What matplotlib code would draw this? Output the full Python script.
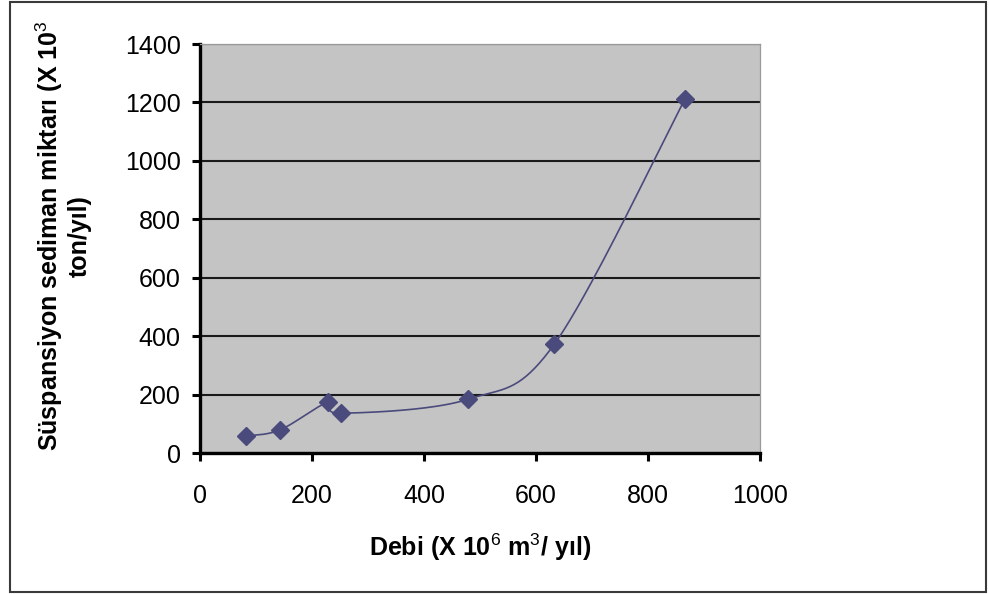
import numpy as np
import matplotlib
matplotlib.use("Agg")
import matplotlib.pyplot as plt
from matplotlib.patches import Rectangle

plt.rcParams["font.family"] = ["Liberation Sans", "DejaVu Sans"]
plt.rcParams["mathtext.fontset"] = "custom"
plt.rcParams["mathtext.rm"] = "Liberation Sans"
plt.rcParams["mathtext.it"] = "Liberation Sans"
plt.rcParams["mathtext.bf"] = "Liberation Sans:bold"

# Debi (10^6 m^3/yıl) vs süspansiyon sediman miktarı (10^3 ton/yıl)
debi = [82, 143, 229, 252, 479, 633, 866]
sediman = [59, 80, 175, 137, 185, 374, 1212]

x_ticks = [0, 200, 400, 600, 800, 1000]
y_ticks = [0, 200, 400, 600, 800, 1000, 1200, 1400]

SERIES = "#4a4a7c"
PLOT_BG = "#c4c4c4"


def smooth_curve(xs, ys, n=40):
    """Catmull-Rom style cubic Bezier smoothing through the points."""
    p = np.column_stack([xs, ys]).astype(float)
    ext = np.vstack([p[0], p, p[-1]])
    out = []
    t = np.linspace(0, 1, n)[:, None]
    for i in range(len(p) - 1):
        p0, p1, p2, p3 = ext[i], ext[i + 1], ext[i + 2], ext[i + 3]
        c1 = p1 + (p2 - p0) / 6.0
        c2 = p2 - (p3 - p1) / 6.0
        seg = ((1 - t) ** 3) * p1 + 3 * ((1 - t) ** 2) * t * c1 \
            + 3 * (1 - t) * t ** 2 * c2 + t ** 3 * p2
        out.append(seg if i == 0 else seg[1:])
    c = np.vstack(out)
    return c[:, 0], c[:, 1]


fig = plt.figure(figsize=(9.89, 5.94), dpi=100)
fig.patch.set_facecolor("white")
ax = fig.add_axes([200 / 989, 1 - 453.3 / 594, 560 / 989, (453.3 - 44) / 594])
ax.set_facecolor(PLOT_BG)

ax.set_xlim(0, 1000)
ax.set_ylim(0, 1400)
ax.set_xticks(x_ticks)
ax.set_yticks(y_ticks)
ax.set_xticklabels([str(v) for v in x_ticks])
ax.set_yticklabels([str(v) for v in y_ticks])

ax.yaxis.grid(True, color="#1a1a1a", linewidth=1.5)
ax.set_axisbelow(True)

for side in ("left", "bottom"):
    ax.spines[side].set_linewidth(2.4)
    ax.spines[side].set_color("black")
for side in ("top", "right"):
    ax.spines[side].set_linewidth(0.9)
    ax.spines[side].set_color("#9a9a9a")

ax.tick_params(axis="both", direction="out", length=6, width=2.2,
               color="black", labelsize=18)
ax.tick_params(axis="y", pad=8)
ax.tick_params(axis="x", pad=16)

cx, cy = smooth_curve(debi, sediman)
ax.plot(cx, cy, color=SERIES, linewidth=1.2, zorder=3, clip_on=False)
ax.plot(debi, sediman, linestyle="none", marker="D", markersize=9,
        color=SERIES, zorder=4, clip_on=False)

fig.text(480 / 989, 1 - 547 / 594, r"Debi (X 10$^{6}$ m$^{3}$/ yıl)",
         ha="center", va="center", fontsize=18, fontweight="bold")
fig.text(63 / 989, 1 - 236 / 594,
         "Süspansiyon sediman miktarı (X 10$^{3}$\nton/yıl)",
         ha="center", va="center", rotation=90, fontsize=18,
         fontweight="bold", linespacing=1.15)

fig.patches.append(Rectangle((10 / 989, 2 / 594), 976 / 989, 590 / 594,
                             transform=fig.transFigure, fill=False,
                             edgecolor="#3a3a3a", linewidth=1.5))

fig.savefig("out.png", dpi=100)
